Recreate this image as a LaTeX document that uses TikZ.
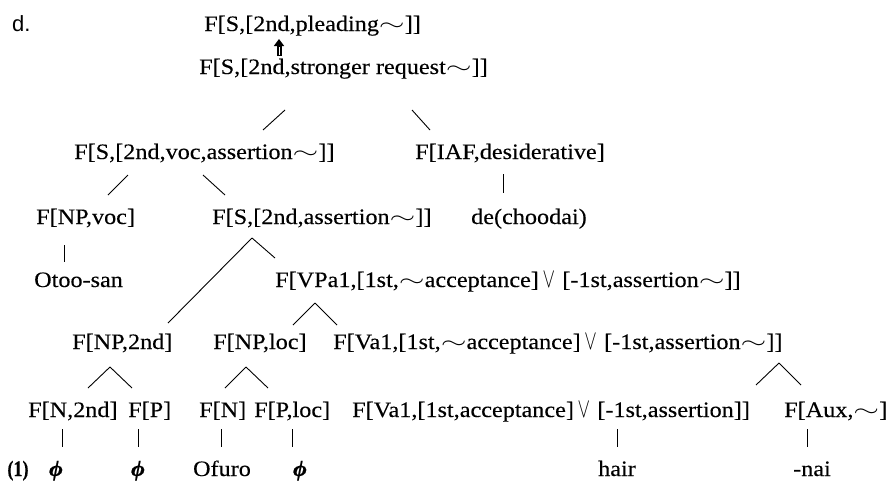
\documentclass[tikz,border=0pt]{standalone}
\usepackage{fontspec}
\setmainfont[FakeStretch=1.1,FakeBold=0.25]{Liberation Serif}
\newfontfamily\sansf{Liberation Sans}
\usetikzlibrary{arrows.meta}
\newcommand\fs{\fontsize{22pt}{26pt}\selectfont}
\newcommand\tld{\raisebox{0.5pt}{\scalebox{1.6}[1]{$\sim$}}}
\newcommand\orr{\,\scalebox{0.9}[1.35]{$\vee$}\,\,}
\begin{document}
\begin{tikzpicture}[x=1pt,y=-1pt,
  lbl/.style={anchor=base west,inner sep=0pt,font=\fs},
  leaf/.style={anchor=base,inner sep=0pt,font=\fs},
  edge/.style={line width=0.9pt}]
\useasboundingbox (0,0) rectangle (886,482);
% labels
\node[lbl] (d) at (12,31) {\sansf d.};
\node[lbl] (top) at (204,31) {F[S,[2nd,pleading\tld]]};
\node[lbl] (sr) at (199,74) {F[S,[2nd,stronger request\tld]]};
\node[lbl] (sva) at (74,159) {F[S,[2nd,voc,assertion\tld]]};
\node[lbl] (iaf) at (415,159) {F[IAF,desiderative]};
\node[lbl] (npvoc) at (36,224) {F[NP,voc]};
\node[lbl] (sa) at (212,224) {F[S,[2nd,assertion\tld]]};
\node[lbl] (de) at (471,224) {de(choodai)};
\node[lbl] (otoo) at (34,287) {Otoo-san};
\node[lbl] (vpa) at (275,287) {F[VPa1,[1st,\tld acceptance]\orr[-1st,assertion\tld]]};
\node[lbl] (np2) at (72,349) {F[NP,2nd]};
\node[lbl] (nploc) at (213,349) {F[NP,loc]};
\node[lbl] (vaA) at (333,349) {F[Va1,[1st,\tld acceptance]\orr[-1st,assertion\tld]]};
\node[lbl] (n2) at (28,417) {F[N,2nd]};
\node[lbl] (p) at (128,417) {F[P]};
\node[lbl] (n) at (199,417) {F[N]};
\node[lbl] (ploc) at (254,417) {F[P,loc]};
\node[lbl] (vaB) at (352,417) {F[Va1,[1st,acceptance]\orr[-1st,assertion]]};
\node[lbl] (aux) at (784,417) {F[Aux,\tld]};
\node[leaf] (w1) at (18,476) {\scalebox{0.75}[1]{\textbf{(1)}}};
\node[leaf] (phiA) at (56,476) {\textbf{\textit{ϕ}}};
\node[leaf] (phiB) at (138,476) {\textbf{\textit{ϕ}}};
\node[leaf] (ofuro) at (222,476) {Ofuro};
\node[leaf] (phiC) at (300,476) {\textbf{\textit{ϕ}}};
\node[leaf] (hair) at (617,476) {hair};
\node[leaf] (nai) at (812,476) {-nai};
% connector ends
\coordinate (arA) at (279,56);
\coordinate (arB) at (279,39);
\coordinate (e1a) at (285,110); \coordinate (e1b) at (263,130);
\coordinate (e2a) at (412,110); \coordinate (e2b) at (430,130);
\coordinate (e3a) at (128,175); \coordinate (e3b) at (108,195);
\coordinate (e4a) at (203,175); \coordinate (e4b) at (225,195);
\coordinate (e5a) at (503,174); \coordinate (e5b) at (503,193);
\coordinate (e6a) at (64,245); \coordinate (e6b) at (64,262);
\coordinate (apS) at (252,238);
\coordinate (e7b) at (168,323); \coordinate (e8b) at (275,258);
\coordinate (apV) at (315,303);
\coordinate (e9b) at (293,325); \coordinate (e10b) at (337,325);
\coordinate (apN) at (110,367);
\coordinate (e11b) at (88,388); \coordinate (e12b) at (132,388);
\coordinate (apL) at (246,367);
\coordinate (e13b) at (225,388); \coordinate (e14b) at (268,388);
\coordinate (apA) at (779,363);
\coordinate (e15b) at (756,385); \coordinate (e16b) at (801,385);
\coordinate (b1a) at (62,429); \coordinate (b1b) at (62,447);
\coordinate (b2a) at (138,429); \coordinate (b2b) at (138,447);
\coordinate (b3a) at (221,429); \coordinate (b3b) at (221,447);
\coordinate (b4a) at (292,429); \coordinate (b4b) at (292,447);
\coordinate (b5a) at (617,429); \coordinate (b5b) at (617,447);
\coordinate (b6a) at (807,429); \coordinate (b6b) at (807,447);
% arrow
\draw[line width=5pt,-{Triangle[length=7pt,width=10pt]}] (arA) -- (arB);
\draw[white,line width=0.7pt] (279,55) -- (279,47);
% edges
\draw[edge] (e1a) -- (e1b);
\draw[edge] (e2a) -- (e2b);
\draw[edge] (e3a) -- (e3b);
\draw[edge] (e4a) -- (e4b);
\draw[edge] (e5a) -- (e5b);
\draw[edge] (e6a) -- (e6b);
\draw[edge] (apS) -- (e7b);
\draw[edge] (apS) -- (e8b);
\draw[edge] (apV) -- (e9b);
\draw[edge] (apV) -- (e10b);
\draw[edge] (apN) -- (e11b);
\draw[edge] (apN) -- (e12b);
\draw[edge] (apL) -- (e13b);
\draw[edge] (apL) -- (e14b);
\draw[edge] (apA) -- (e15b);
\draw[edge] (apA) -- (e16b);
\draw[edge] (b1a) -- (b1b);
\draw[edge] (b2a) -- (b2b);
\draw[edge] (b3a) -- (b3b);
\draw[edge] (b4a) -- (b4b);
\draw[edge] (b5a) -- (b5b);
\draw[edge] (b6a) -- (b6b);
\end{tikzpicture}
\end{document}
